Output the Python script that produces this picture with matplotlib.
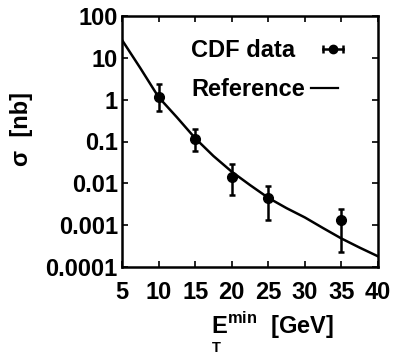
import matplotlib
matplotlib.use("Agg")
import matplotlib.pyplot as plt
from matplotlib.lines import Line2D
from matplotlib.legend_handler import HandlerLine2D, HandlerTuple
from matplotlib.ticker import FixedLocator, LogLocator, NullFormatter

plt.rcParams['font.family'] = ['Liberation Sans', 'DejaVu Sans']
plt.rcParams['font.weight'] = 'bold'
plt.rcParams['mathtext.fontset'] = 'custom'
plt.rcParams['mathtext.rm'] = 'Liberation Sans:bold'
plt.rcParams['mathtext.bf'] = 'Liberation Sans:bold'

# CDF data points
et_data = [10, 15, 20, 25, 35]
sigma_data = [1.15, 0.114, 0.0138, 0.0045, 0.0013]
err_hi = [2.36, 0.198, 0.0293, 0.0087, 0.0024]
err_lo = [0.53, 0.059, 0.0054, 0.0013, 0.000226]

# reference curve
et_ref = [5, 7.5, 10, 12.5, 15, 17.5, 20, 22.5, 25, 27.5, 30, 32.5, 35, 37.5, 40]
sigma_ref = [26.7, 5.7, 1.15, 0.38, 0.12, 0.045, 0.019, 0.0091, 0.0045,
             0.00255, 0.00153, 0.00085, 0.00048, 0.00029, 0.00018]

yticks = [1e-4, 1e-3, 1e-2, 1e-1, 1, 10, 100]
ytick_labels = ['0.0001', '0.001', '0.01', '0.1', '1', '10', '100']
xticks = [5, 10, 15, 20, 25, 30, 35, 40]

fs = 17

fig = plt.figure(figsize=(3.93, 3.56), dpi=100)
ax = fig.add_axes([122 / 393, 1 - 267 / 356, 256 / 393, 251 / 356])

yerr = [[s - l for s, l in zip(sigma_data, err_lo)],
        [h - s for s, h in zip(sigma_data, err_hi)]]
ax.errorbar(et_data, sigma_data, yerr=yerr, fmt='o', color='black', ms=7,
            elinewidth=1.8, capsize=2.5, capthick=1.8)
ax.plot(et_ref, sigma_ref, color='black', lw=1.8)

ax.set_yscale('log')
ax.set_xlim(5, 40)
ax.set_ylim(1e-4, 100)
ax.set_yticks(yticks)
ax.set_yticklabels(ytick_labels)
ax.yaxis.set_minor_locator(LogLocator(base=10, subs=range(2, 10)))
ax.yaxis.set_minor_formatter(NullFormatter())
ax.xaxis.set_major_locator(FixedLocator(xticks))
ax.set_xticklabels([str(x) for x in xticks])

ax.tick_params(which='both', direction='in', top=True, right=True,
               labelsize=fs, width=1.2)
ax.tick_params(which='major', length=4)
ax.tick_params(axis='x', which='major', pad=10)
ax.tick_params(axis='y', which='major', pad=3)
ax.tick_params(which='minor', length=2)
for s in ax.spines.values():
    s.set_linewidth(1.8)

# x label: E with "min" on top, "T" stacked underneath (gnuplot style)
ax.set_xlabel(r'E$^{\mathrm{min}}$  [GeV]', fontsize=fs, fontweight='bold')
ax.xaxis.set_label_coords(0.586, -0.168)
ax.annotate('T', xy=(0.048, 0), xycoords=ax.xaxis.label, xytext=(0, 0),
            textcoords='offset points', ha='center', va='top',
            fontsize=10.5, fontweight='bold', annotation_clip=False)

ax.set_ylabel('σ  [nb]', fontsize=fs, fontweight='bold')
ax.yaxis.set_label_coords(-0.348, 0.55)

# gnuplot-style key: text first, then sample
cap_line = Line2D([], [], color='black', lw=1.8, marker='|', ms=6, mew=1.8)
dot_line = Line2D([], [], color='black', lw=0, marker='o', ms=6)
ref_line = Line2D([], [], color='black', lw=1.6)
leg1 = ax.legend([(cap_line, dot_line)], ['CDF data'],
                 handler_map={cap_line: HandlerLine2D(numpoints=2),
                              dot_line: HandlerLine2D(numpoints=1),
                              tuple: HandlerTuple(ndivide=1)},
                 loc='center right', bbox_to_anchor=(0.891, 0.863), frameon=False,
                 markerfirst=False, fontsize=fs, handlelength=1.44,
                 borderaxespad=0, borderpad=0, handletextpad=0.9)
ax.add_artist(leg1)
ax.legend([ref_line], ['Reference'],
          loc='center right', bbox_to_anchor=(0.844, 0.707), frameon=False,
          markerfirst=False, fontsize=fs, handlelength=1.14,
          borderaxespad=0, borderpad=0, handletextpad=0.25)

fig.savefig('out.png', dpi=100)
